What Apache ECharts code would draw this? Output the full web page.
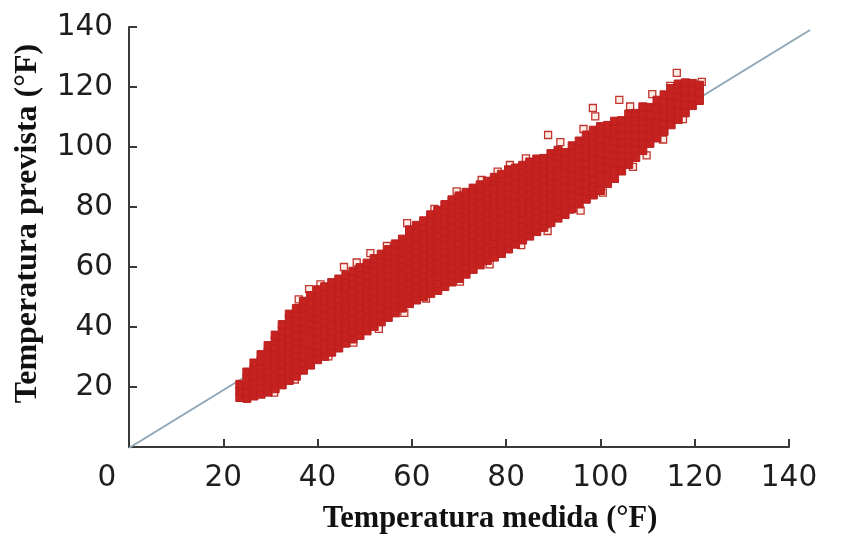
<!DOCTYPE html>
<html>
<head>
<meta charset="utf-8">
<script src="https://cdn.jsdelivr.net/npm/echarts@6/dist/echarts.min.js"></script>
<style>html,body{margin:0;padding:0;background:#fff;}#chart{width:850px;height:540px;}</style>
</head>
<body>
<div id="chart"></div>
<script>
// Axis settings
const xTitle = 'Temperatura medida (°F)';
const yTitle = 'Temperatura prevista (°F)';
const axisTicks = [0, 20, 40, 60, 80, 100, 120, 140];

// Reference line (runs slightly past the x-axis end)
const refLine = [[0, 0], [144.5, 139]];

// Dense part of the cloud: [measured temperature, [predicted temperatures...]]
const coreColumns = [
  [23.5, [16.5, 18.7, 20.9]],
  [25.0, [16.2, 18.4, 20.6, 22.8, 25.0]],
  [26.5, [17.0, 19.2, 21.4, 23.6, 25.8, 28.0]],
  [28.0, [17.6, 19.9, 22.1, 24.3, 26.5, 28.7, 30.8]],
  [29.5, [18.3, 20.5, 22.8, 25.0, 27.3, 29.5, 31.8, 33.8]],
  [31.0, [19.4, 21.7, 24.0, 26.3, 28.5, 30.8, 33.1, 35.4, 37.3]],
  [32.5, [20.7, 23.0, 25.3, 27.6, 29.9, 32.2, 34.5, 36.8, 39.0, 40.8]],
  [34.0, [22.2, 24.5, 26.8, 29.1, 31.4, 33.7, 36.0, 38.3, 40.6, 42.8, 44.3]],
  [35.5, [23.6, 25.9, 28.2, 30.5, 32.8, 35.1, 37.4, 39.7, 42.0, 44.3, 46.2]],
  [37.0, [25.6, 27.9, 30.2, 32.5, 34.8, 37.1, 39.4, 41.7, 44.0, 46.3, 48.6]],
  [38.5, [27.3, 29.6, 31.9, 34.2, 36.5, 38.8, 41.1, 43.4, 45.7, 48.0, 50.5]],
  [40.0, [29.1, 31.4, 33.7, 36.0, 38.3, 40.6, 42.9, 45.2, 47.5, 49.8, 52.4]],
  [41.5, [30.2, 32.5, 34.8, 37.1, 39.4, 41.7, 44.0, 46.3, 48.6, 50.9, 53.4]],
  [43.0, [31.6, 33.9, 36.2, 38.5, 40.8, 43.1, 45.4, 47.7, 50.0, 52.3, 54.8]],
  [44.5, [33.0, 35.3, 37.6, 39.9, 42.2, 44.5, 46.8, 49.1, 51.4, 53.7, 56.0]],
  [46.0, [34.6, 36.9, 39.2, 41.5, 43.8, 46.1, 48.4, 50.7, 53.0, 55.3, 57.2]],
  [47.5, [36.0, 38.3, 40.6, 42.9, 45.2, 47.5, 49.8, 52.1, 54.4, 56.7, 58.6]],
  [49.0, [37.2, 39.5, 41.8, 44.1, 46.4, 48.7, 51.0, 53.3, 55.6, 57.9, 59.8]],
  [50.5, [38.7, 41.0, 43.3, 45.6, 47.9, 50.2, 52.5, 54.8, 57.1, 59.4, 61.3]],
  [52.0, [40.2, 42.5, 44.8, 47.1, 49.4, 51.7, 54.0, 56.3, 58.6, 60.9, 62.8]],
  [53.5, [41.7, 44.0, 46.3, 48.6, 50.9, 53.2, 55.5, 57.8, 60.1, 62.4, 64.3]],
  [55.0, [43.2, 45.5, 47.8, 50.1, 52.4, 54.7, 57.0, 59.3, 61.6, 63.9, 65.8]],
  [56.5, [44.7, 47.0, 49.3, 51.6, 53.9, 56.2, 58.5, 60.8, 63.1, 65.4, 67.7]],
  [58.0, [46.3, 48.6, 50.9, 53.2, 55.5, 57.8, 60.1, 62.4, 64.7, 67.0, 69.3]],
  [59.5, [47.8, 50.1, 52.4, 54.7, 57.0, 59.3, 61.6, 63.9, 66.2, 68.5, 70.8, 72.4]],
  [61.0, [49.0, 51.3, 53.6, 55.9, 58.2, 60.5, 62.8, 65.1, 67.4, 69.7, 72.0, 73.9]],
  [62.5, [50.2, 52.5, 54.8, 57.1, 59.4, 61.7, 64.0, 66.3, 68.6, 70.9, 73.2, 75.4]],
  [64.0, [51.2, 53.5, 55.8, 58.1, 60.4, 62.7, 65.0, 67.3, 69.6, 71.9, 74.2, 76.5, 77.4]],
  [65.5, [52.2, 54.5, 56.8, 59.1, 61.4, 63.7, 66.0, 68.3, 70.6, 72.9, 75.2, 77.5, 78.9]],
  [67.0, [53.5, 55.8, 58.1, 60.4, 62.7, 65.0, 67.3, 69.6, 71.9, 74.2, 76.5, 78.8, 80.8]],
  [68.5, [55.0, 57.3, 59.6, 61.9, 64.2, 66.5, 68.8, 71.1, 73.4, 75.7, 78.0, 80.3, 82.4]],
  [70.0, [56.2, 58.5, 60.8, 63.1, 65.4, 67.7, 70.0, 72.3, 74.6, 76.9, 79.2, 81.5, 83.7]],
  [71.5, [57.6, 59.9, 62.2, 64.5, 66.8, 69.1, 71.4, 73.7, 76.0, 78.3, 80.6, 82.9, 84.9]],
  [73.0, [59.2, 61.5, 63.8, 66.1, 68.4, 70.7, 73.0, 75.3, 77.6, 79.9, 82.2, 84.5, 86.3]],
  [74.5, [60.7, 63.0, 65.3, 67.6, 69.9, 72.2, 74.5, 76.8, 79.1, 81.4, 83.7, 86.0, 87.4]],
  [76.0, [62.2, 64.5, 66.8, 69.1, 71.4, 73.7, 76.0, 78.3, 80.6, 82.9, 85.2, 87.5, 88.6]],
  [77.5, [63.3, 65.6, 67.9, 70.2, 72.5, 74.8, 77.1, 79.4, 81.7, 84.0, 86.3, 88.6, 89.9]],
  [79.0, [64.5, 66.8, 69.1, 71.4, 73.7, 76.0, 78.3, 80.6, 82.9, 85.2, 87.5, 89.8, 90.9]],
  [80.5, [66.0, 68.3, 70.6, 72.9, 75.2, 77.5, 79.8, 82.1, 84.4, 86.7, 89.0, 91.3, 92.4]],
  [82.0, [67.6, 69.9, 72.2, 74.5, 76.8, 79.1, 81.4, 83.7, 86.0, 88.3, 90.6, 93.0]],
  [83.5, [69.0, 71.3, 73.6, 75.9, 78.2, 80.5, 82.8, 85.1, 87.4, 89.7, 92.0, 93.9]],
  [85.0, [70.3, 72.6, 74.9, 77.2, 79.5, 81.8, 84.1, 86.4, 88.7, 91.0, 93.3, 95.0]],
  [86.5, [71.8, 74.1, 76.4, 78.7, 81.0, 83.3, 85.6, 87.9, 90.2, 92.5, 94.8, 96.0]],
  [88.0, [73.2, 75.5, 77.8, 80.1, 82.4, 84.7, 87.0, 89.3, 91.6, 93.9, 96.2]],
  [89.5, [74.8, 77.1, 79.4, 81.7, 84.0, 86.3, 88.6, 90.9, 93.2, 95.5, 97.8]],
  [91.0, [76.3, 78.6, 80.9, 83.2, 85.5, 87.8, 90.1, 92.4, 94.7, 97.0, 98.9]]
];

// Upper, sparser part of the cloud
const upperColumns = [
  [92.5, [77.5, 79.8, 82.1, 84.4, 86.7, 89.0, 91.3, 93.6, 95.9, 98.2]],
  [94.0, [79.4, 81.7, 84.0, 86.3, 88.6, 90.9, 93.2, 95.5, 97.8, 100.4]],
  [95.5, [81.0, 83.3, 85.6, 87.9, 90.2, 92.5, 94.8, 97.1, 99.4, 102.0]],
  [97.0, [82.6, 85.2, 87.5, 89.8, 92.1, 94.4, 96.7, 99.0, 101.5, 104.0]],
  [98.5, [84.0, 86.6, 89.2, 91.6, 94.0, 96.3, 98.6, 101.0, 103.4, 105.6]],
  [100.0, [85.5, 88.3, 91.0, 93.4, 95.7, 98.0, 100.3, 102.6, 105.0, 106.8]],
  [101.5, [87.8, 90.5, 93.0, 95.4, 97.7, 100.0, 102.3, 104.6, 107.2]],
  [103.0, [89.5, 92.4, 95.0, 97.3, 99.6, 101.9, 104.2, 106.8, 108.6]],
  [104.5, [92.0, 94.6, 97.0, 99.3, 101.6, 103.9, 106.3, 108.8]],
  [106.0, [94.2, 97.0, 99.5, 101.8, 104.1, 106.4, 108.8, 111.0]],
  [107.5, [96.5, 99.2, 101.6, 103.9, 106.2, 108.6, 111.2]],
  [109.0, [98.8, 101.5, 103.9, 106.2, 108.5, 110.8, 113.4]],
  [110.5, [101.2, 103.8, 106.2, 108.5, 110.8, 113.2]],
  [112.0, [103.0, 105.8, 108.3, 110.6, 112.9, 115.6]],
  [113.5, [105.2, 107.8, 110.2, 112.5, 115.0, 117.4]],
  [115.0, [107.4, 110.0, 112.5, 114.8, 117.2, 119.5]],
  [116.5, [109.2, 111.8, 114.2, 116.6, 119.0, 121.0]],
  [118.0, [111.4, 114.0, 116.5, 119.0, 121.4]],
  [119.5, [113.8, 116.4, 118.8, 121.2]],
  [121.0, [115.5, 118.2, 120.6]]
];

// Scattered points at the edges of the cloud: [measured, predicted]
const upperOutliers = [
  [36.0, 49.2], [38.2, 52.6], [40.6, 54.2], [45.6, 60.0], [48.3, 61.5], [51.2, 64.6],
  [54.7, 67.0], [59.0, 74.6], [64.8, 79.4], [69.5, 85.2], [74.8, 89.0], [78.2, 91.8],
  [80.8, 94.0], [84.2, 96.2], [88.9, 104.0], [91.5, 101.6], [96.4, 106.0], [98.4, 113.0],
  [98.9, 110.2], [104.0, 115.7], [106.3, 113.5], [111.0, 117.6], [114.8, 120.4],
  [116.2, 124.7], [119.0, 119.5], [121.5, 121.7]
];
const lowerOutliers = [
  [30.8, 18.1], [35.2, 22.5], [42.3, 30.2], [47.6, 34.8], [53.0, 39.4], [58.4, 44.7],
  [63.0, 49.5], [70.2, 55.1], [76.5, 60.9], [83.2, 67.3], [88.8, 72.0], [90.7, 78.2],
  [93.5, 79.1], [95.8, 78.8], [100.5, 84.8], [104.0, 92.5], [106.9, 93.4], [109.8, 97.2],
  [113.3, 102.5], [117.5, 109.3]
];

function flatten(cols) {
  const out = [];
  cols.forEach(function (c) { c[1].forEach(function (y) { out.push([c[0], y]); }); });
  return out;
}
const denseData = flatten(coreColumns).concat(flatten(upperColumns));
const edgeData = upperOutliers.concat(lowerOutliers);

const labelFont = { fontFamily: 'DejaVu Sans', fontSize: 29.5, color: '#1e1e1e' };
const titleFont = { fontFamily: 'Liberation Serif', fontWeight: 'bold', color: '#111' };
const axisLineStyle = { color: '#3a3a3a', width: 2 };

const chart = echarts.init(document.getElementById('chart'), null, { renderer: 'canvas' });
chart.setOption({
  backgroundColor: '#fff',
  animation: false,
  grid: [
    { left: 129, right: 61, top: 27, bottom: 92 },
    { left: 129, right: 40, top: 27, bottom: 92 }
  ],
  xAxis: [
    {
      type: 'value', gridIndex: 0, min: axisTicks[0], max: axisTicks[axisTicks.length - 1], interval: 20,
      name: xTitle, nameLocation: 'middle', nameGap: 57,
      nameTextStyle: Object.assign({ fontSize: 30.5, padding: [0, 0, 0, 62] }, titleFont),
      axisLine: { show: true, onZero: false, lineStyle: axisLineStyle },
      axisTick: { show: true, inside: true, length: 8, lineStyle: axisLineStyle },
      axisLabel: Object.assign({
        margin: 16,
        formatter: function (v) { return v === 0 ? '{zero|0}' : String(v); },
        rich: { zero: Object.assign({ padding: [0, 44, 0, 0] }, labelFont) }
      }, labelFont),
      splitLine: { show: false }
    },
    {
      type: 'value', gridIndex: 1, min: refLine[0][0], max: refLine[1][0], show: false
    }
  ],
  yAxis: [
    {
      type: 'value', gridIndex: 0, min: axisTicks[0], max: axisTicks[axisTicks.length - 1], interval: 20,
      name: yTitle, nameLocation: 'middle', nameGap: 85, nameRotate: 90,
      nameTextStyle: Object.assign({ fontSize: 32, padding: [0, 0, 0, 27] }, titleFont),
      axisLine: { show: true, onZero: false, lineStyle: axisLineStyle },
      axisTick: { show: true, inside: true, length: 8, lineStyle: axisLineStyle },
      axisLabel: Object.assign({ margin: 16, showMinLabel: false }, labelFont),
      splitLine: { show: false }
    },
    {
      type: 'value', gridIndex: 1, min: axisTicks[0], max: axisTicks[axisTicks.length - 1], show: false
    }
  ],
  series: [
    {
      type: 'line', xAxisIndex: 1, yAxisIndex: 1, data: refLine, symbol: 'none', z: 1,
      lineStyle: { color: '#8ea7b6', width: 2 }, silent: true
    },
    {
      type: 'scatter', xAxisIndex: 0, yAxisIndex: 0, data: edgeData, symbol: 'rect', symbolSize: 7, z: 2,
      itemStyle: { color: 'rgba(255,235,230,0.9)', borderColor: '#c0352e', borderWidth: 1.3, opacity: 1 }
    },
    {
      type: 'scatter', xAxisIndex: 0, yAxisIndex: 0, data: denseData, symbol: 'rect', symbolSize: 8, z: 3,
      itemStyle: { color: '#c62220', borderColor: '#bb1f1f', borderWidth: 1, opacity: 1 }
    }
  ]
});
</script>
</body>
</html>
